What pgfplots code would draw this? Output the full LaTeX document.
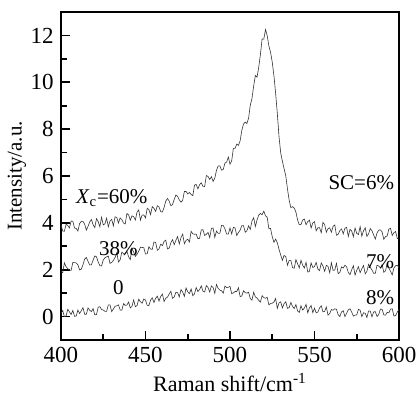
\documentclass[border=0pt]{standalone}
\usepackage{pgfplots}
\pgfplotsset{compat=1.18}
\usepackage{fontspec}
\setmainfont{Liberation Serif}
\begin{document}
\fontsize{10.5}{12}\selectfont
\begin{tikzpicture}
\begin{axis}[name=ax,
  scale only axis, width=169pt, height=164pt,
  xmin=400, xmax=600, ymin=-1, ymax=13,
  xtick={400,450,...,600}, ytick={0,2,...,12},
  minor x tick num=1, minor y tick num=1,
  tick align=inside, xtick pos=bottom, ytick pos=left,
  major tick length=4.5pt, minor tick length=3pt,
  axis line style={line width=1pt},
  every tick/.style={line width=0.9pt, black},
  tick label style={font=\fontsize{11.5}{13}\selectfont},
  /pgf/number format/assume math mode=true,
  every axis x label/.style={at={(axis description cs:0.5,0)}, anchor=center, yshift=-21.5pt},
  every axis y label/.style={at={(axis description cs:-0.130,0.5)}, anchor=center, rotate=90},
  xlabel={Raman shift/cm\textsuperscript{-1}},
  ylabel={Intensity/a.u.},
  x label style={font=\fontsize{11}{13}\selectfont},
  y label style={font=\fontsize{10.5}{12}\selectfont},
]
\addplot[black!80, line width=0.3pt, no marks] coordinates {
(400,3.92)(401,3.65)(402,3.64)(403,3.94)(404,3.89)(405,3.78)(406,4.08)(407,4.07)(408,3.78)(409,3.76)
(410,3.65)(411,3.97)(412,4.06)(413,4.06)(414,3.94)(415,3.69)(416,3.85)(417,4.04)(418,4.14)(419,3.92)
(420,3.80)(421,4.18)(422,4.05)(423,3.83)(424,4.24)(425,3.91)(426,3.96)(427,4.20)(428,3.83)(429,4.08)
(430,4.15)(431,3.87)(432,4.26)(433,4.23)(434,3.99)(435,4.21)(436,4.14)(437,3.99)(438,3.95)(439,4.40)
(440,4.34)(441,4.11)(442,4.30)(443,4.27)(444,4.12)(445,4.46)(446,4.55)(447,4.12)(448,4.33)(449,4.34)
(450,4.21)(451,4.62)(452,4.57)(453,4.35)(454,4.69)(455,4.62)(456,4.49)(457,4.73)(458,4.68)(459,4.48)
(460,4.46)(461,4.66)(462,4.93)(463,5.04)(464,4.93)(465,4.73)(466,4.78)(467,5.00)(468,5.19)(469,5.13)
(470,4.98)(471,4.88)(472,4.96)(473,5.34)(474,5.34)(475,5.23)(476,5.30)(477,5.21)(478,5.16)(479,5.61)
(480,5.64)(481,5.45)(482,5.63)(483,5.71)(484,5.56)(485,5.55)(486,6.02)(487,5.98)(488,5.85)(489,5.97)
(490,5.77)(491,5.91)(492,6.24)(493,6.43)(494,6.43)(495,6.25)(496,6.28)(497,6.55)(498,6.59)(499,6.81)
(500,6.50)(501,6.65)(502,7.18)(503,7.18)(504,7.36)(505,7.31)(506,7.50)(507,7.95)(508,8.22)(509,8.30)
(510,8.24)(511,8.47)(512,9.02)(513,9.31)(514,9.84)(515,10.29)(516,10.22)(517,10.64)(518,11.19)(519,11.85)
(520,11.84)(521,12.25)(522,12.00)(523,11.55)(524,11.28)(525,10.86)(526,10.28)(527,9.53)(528,8.67)(529,7.68)
(530,6.99)(531,6.63)(532,6.31)(533,6.01)(534,5.45)(535,4.97)(536,4.65)(537,4.69)(538,4.63)(539,4.46)
(540,4.12)(541,3.92)(542,3.93)(543,4.12)(544,4.16)(545,3.92)(546,4.05)(547,4.12)(548,3.78)(549,4.00)
(550,4.05)(551,3.66)(552,3.79)(553,3.79)(554,3.58)(555,4.02)(556,3.93)(557,3.60)(558,3.75)(559,3.79)
(560,3.60)(561,3.85)(562,3.91)(563,3.47)(564,3.51)(565,3.67)(566,3.74)(567,3.53)(568,3.77)(569,3.81)
(570,3.42)(571,3.72)(572,3.65)(573,3.41)(574,3.78)(575,3.55)(576,3.50)(577,3.84)(578,3.43)(579,3.66)
(580,3.79)(581,3.42)(582,3.53)(583,3.76)(584,3.66)(585,3.48)(586,3.31)(587,3.57)(588,3.69)(589,3.70)
(590,3.61)(591,3.30)(592,3.41)(593,3.44)(594,3.74)(595,3.76)(596,3.46)(597,3.58)(598,3.63)(599,3.33)
(600,3.34)
};
\addplot[black!80, line width=0.3pt, no marks] coordinates {
(400,1.92)(401,1.87)(402,2.29)(403,2.13)(404,2.04)(405,1.99)(406,1.97)(407,2.31)(408,2.30)(409,2.29)
(410,2.21)(411,1.99)(412,2.02)(413,2.21)(414,2.45)(415,2.52)(416,2.36)(417,2.20)(418,2.21)(419,2.41)
(420,2.59)(421,2.55)(422,2.33)(423,2.17)(424,2.16)(425,2.41)(426,2.51)(427,2.55)(428,2.58)(429,2.27)
(430,2.31)(431,2.40)(432,2.52)(433,2.72)(434,2.33)(435,2.42)(436,2.75)(437,2.68)(438,2.67)(439,2.79)
(440,2.55)(441,2.43)(442,2.91)(443,2.75)(444,2.57)(445,2.66)(446,2.79)(447,2.96)(448,2.95)(449,2.94)
(450,2.67)(451,2.68)(452,2.98)(453,2.88)(454,2.87)(455,3.18)(456,3.17)(457,2.83)(458,2.89)(459,3.09)
(460,3.03)(461,3.21)(462,3.26)(463,2.89)(464,2.92)(465,3.15)(466,3.28)(467,3.07)(468,3.26)(469,3.41)
(470,3.10)(471,3.37)(472,3.52)(473,3.11)(474,3.25)(475,3.30)(476,3.18)(477,3.64)(478,3.53)(479,3.51)
(480,3.52)(481,3.32)(482,3.34)(483,3.70)(484,3.71)(485,3.46)(486,3.51)(487,3.59)(488,3.37)(489,3.76)
(490,3.78)(491,3.38)(492,3.65)(493,3.55)(494,3.55)(495,3.89)(496,3.89)(497,3.74)(498,3.52)(499,3.52)
(500,3.78)(501,3.53)(502,3.81)(503,3.78)(504,3.46)(505,3.59)(506,3.69)(507,3.88)(508,3.88)(509,3.60)
(510,3.66)(511,3.87)(512,3.72)(513,4.08)(514,4.22)(515,3.84)(516,4.12)(517,4.33)(518,4.40)(519,4.35)
(520,4.50)(521,4.30)(522,4.24)(523,3.75)(524,3.76)(525,3.41)(526,3.17)(527,3.31)(528,3.15)(529,2.87)
(530,2.63)(531,2.40)(532,2.61)(533,2.56)(534,2.19)(535,2.40)(536,2.40)(537,2.09)(538,2.06)(539,2.43)
(540,2.25)(541,2.08)(542,2.40)(543,2.19)(544,2.07)(545,2.32)(546,1.90)(547,1.93)(548,2.29)(549,2.09)
(550,2.14)(551,2.31)(552,2.03)(553,1.96)(554,2.29)(555,2.16)(556,1.93)(557,2.19)(558,2.14)(559,1.87)
(560,2.30)(561,1.97)(562,1.99)(563,2.27)(564,1.83)(565,1.88)(566,2.12)(567,2.07)(568,2.19)(569,2.12)
(570,1.88)(571,1.79)(572,2.00)(573,2.17)(574,1.77)(575,1.97)(576,2.13)(577,1.87)(578,2.04)(579,2.18)
(580,1.82)(581,1.93)(582,2.23)(583,2.10)(584,1.99)(585,1.85)(586,1.85)(587,2.19)(588,2.16)(589,2.07)
(590,2.22)(591,1.89)(592,1.95)(593,2.26)(594,2.07)(595,1.93)(596,1.78)(597,2.08)(598,2.17)(599,2.19)
(600,2.09)
};
\addplot[black!80, line width=0.3pt, no marks] coordinates {
(400,0.14)(401,0.26)(402,0.00)(403,0.02)(404,0.31)(405,0.20)(406,0.09)(407,0.26)(408,0.01)(409,0.02)
(410,0.28)(411,0.13)(412,0.25)(413,0.38)(414,0.10)(415,0.10)(416,0.37)(417,0.27)(418,0.21)(419,0.34)
(420,0.07)(421,0.09)(422,0.40)(423,0.42)(424,0.30)(425,0.28)(426,0.22)(427,0.22)(428,0.50)(429,0.50)
(430,0.21)(431,0.32)(432,0.44)(433,0.46)(434,0.50)(435,0.28)(436,0.27)(437,0.55)(438,0.48)(439,0.49)
(440,0.62)(441,0.37)(442,0.44)(443,0.71)(444,0.42)(445,0.47)(446,0.74)(447,0.63)(448,0.57)(449,0.75)
(450,0.70)(451,0.48)(452,0.47)(453,0.70)(454,0.80)(455,0.60)(456,0.78)(457,0.87)(458,0.66)(459,0.86)
(460,0.96)(461,0.64)(462,0.78)(463,0.83)(464,0.96)(465,1.08)(466,0.78)(467,0.84)(468,1.04)(469,1.02)
(470,0.84)(471,1.15)(472,1.05)(473,0.86)(474,1.22)(475,1.06)(476,0.98)(477,1.18)(478,0.89)(479,0.97)
(480,1.24)(481,1.07)(482,1.15)(483,1.31)(484,1.08)(485,1.05)(486,1.32)(487,1.24)(488,1.05)(489,1.31)
(490,1.24)(491,0.99)(492,1.37)(493,1.20)(494,1.13)(495,1.10)(496,1.00)(497,1.30)(498,1.24)(499,1.25)
(500,1.29)(501,0.98)(502,1.01)(503,1.07)(504,1.07)(505,1.23)(506,0.85)(507,0.88)(508,1.10)(509,1.02)
(510,1.00)(511,1.04)(512,0.77)(513,0.70)(514,1.04)(515,0.84)(516,0.79)(517,0.69)(518,0.62)(519,0.89)
(520,0.81)(521,0.78)(522,0.82)(523,0.50)(524,0.56)(525,0.57)(526,0.62)(527,0.77)(528,0.35)(529,0.58)
(530,0.63)(531,0.37)(532,0.55)(533,0.63)(534,0.35)(535,0.38)(536,0.60)(537,0.44)(538,0.34)(539,0.51)
(540,0.24)(541,0.17)(542,0.46)(543,0.28)(544,0.36)(545,0.52)(546,0.16)(547,0.37)(548,0.47)(549,0.17)
(550,0.36)(551,0.16)(552,0.19)(553,0.37)(554,0.46)(555,0.20)(556,0.22)(557,0.41)(558,0.06)(559,0.13)
(560,0.30)(561,0.27)(562,0.33)(563,0.31)(564,0.08)(565,0.00)(566,0.20)(567,0.25)(568,0.00)(569,0.14)
(570,0.29)(571,0.33)(572,0.19)(573,0.02)(574,0.06)(575,0.07)(576,0.31)(577,0.27)(578,0.00)(579,0.16)
(580,0.14)(581,-0.04)(582,0.24)(583,0.23)(584,-0.01)(585,0.20)(586,0.21)(587,0.00)(588,0.09)(589,0.32)
(590,0.31)(591,0.07)(592,0.06)(593,0.18)(594,0.16)(595,0.32)(596,0.33)(597,0.02)(598,0.04)(599,0.19)
(600,0.31)
};
\node[anchor=center] at (axis cs:430,5.05) {\textit{X}\textsubscript{c}=60\%};
\node[anchor=center] at (axis cs:434,2.9) {38\%};
\node[anchor=center] at (axis cs:434,1.25) {0};
\node[anchor=east, inner sep=1pt] at (axis cs:598.5,5.7) {SC=6\%};
\node[anchor=east, inner sep=1pt] at (axis cs:598.5,2.35) {7\%};
\node[anchor=east, inner sep=1pt] at (axis cs:598.5,0.8) {8\%};
\end{axis}
\pgfresetboundingbox
\path[use as bounding box] ([shift={(-30.5pt,-29pt)}]ax.south west) rectangle ([shift={(9pt,6pt)}]ax.north east);
\end{tikzpicture}
\end{document}
